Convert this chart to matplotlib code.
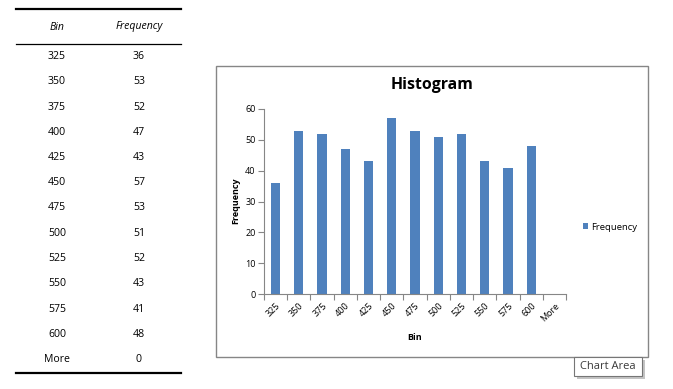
import matplotlib
matplotlib.use("Agg")
import matplotlib.pyplot as plt
from matplotlib.patches import Rectangle
from matplotlib.lines import Line2D
import numpy as np

bins = ["325", "350", "375", "400", "425", "450", "475", "500", "525", "550", "575", "600", "More"]
frequency = [36, 53, 52, 47, 43, 57, 53, 51, 52, 43, 41, 48, 0]
y_ticks = [0, 10, 20, 30, 40, 50, 60]

plt.rcParams['font.family'] = ['Open Sans', 'DejaVu Sans']
W, H = 673, 389
fig = plt.figure(figsize=(W / 100, H / 100), dpi=100)

def fx(px):
    return px / W

def fy(py):
    return 1 - py / H

# ---- table on the left ----
fig.add_artist(Line2D([fx(16), fx(181)], [fy(9), fy(9)], color='black', lw=1.6))
fig.add_artist(Line2D([fx(16), fx(181)], [fy(44), fy(44)], color='black', lw=0.9))
fig.add_artist(Line2D([fx(16), fx(181)], [fy(373), fy(373)], color='black', lw=1.6))
fig.text(fx(57), fy(27), "Bin", ha='center', va='center', fontsize=7.6, style='italic')
fig.text(fx(139), fy(27), "Frequency", ha='center', va='center', fontsize=7.6, style='italic')
row0, step = 56.5, 25.25
for i, (b, f) in enumerate(zip(bins, frequency)):
    yy = fy(row0 + i * step)
    fig.text(fx(57), yy, b, ha='center', va='center', fontsize=7.6)
    fig.text(fx(139), yy, str(f), ha='center', va='center', fontsize=7.6)

# ---- chart area box ----
fig.add_artist(Rectangle((fx(216), fy(357)), fx(648) - fx(216), fy(66) - fy(357),
                         transform=fig.transFigure, facecolor='white',
                         edgecolor='#868686', lw=1.0, zorder=0))

ax = fig.add_axes([fx(264), fy(294), fx(566) - fx(264), fy(109) - fy(294)])
x = np.arange(len(bins))
bars = ax.bar(x, frequency, width=0.4, color='#4F81BD', label='Frequency', zorder=2)
ax.set_xlim(-0.5, len(bins) - 0.5)
ax.set_ylim(0, 60)
ax.set_yticks(y_ticks)
ax.set_yticklabels([str(v) for v in y_ticks], fontsize=6.5)
ax.set_xticks(x)
ax.set_xticklabels(bins, fontsize=6.5, rotation=45, ha='right', va='top', rotation_mode='anchor')
ax.set_xticks(np.arange(len(bins) + 1) - 0.5, minor=True)
ax.tick_params(axis='x', which='major', length=0, pad=5)
ax.tick_params(axis='x', which='minor', length=4, color='#868686', width=0.8)
ax.tick_params(axis='y', length=4, color='#868686', width=0.8, pad=2)
for s in ['top', 'right']:
    ax.spines[s].set_visible(False)
for s in ['left', 'bottom']:
    ax.spines[s].set_color('#868686')
    ax.spines[s].set_linewidth(0.8)
ax.set_facecolor('none')

fig.text(fx(432), fy(85), "Histogram", ha='center', va='center', fontsize=11.4, fontweight='bold')
fig.text(fx(415), fy(338), "Bin", ha='center', va='center', fontsize=6.5, fontweight='bold')
fig.text(fx(236), fy(201), "Frequency", ha='center', va='center', fontsize=6.5,
         fontweight='bold', rotation=90)

fig.legend(handles=[bars], labels=['Frequency'], loc='center left',
           bbox_to_anchor=(fx(578), fy(227)), frameon=False, fontsize=6.8,
           handlelength=0.6, handleheight=0.6, handletextpad=0.3, borderpad=0)

# ---- tooltip ----
fig.add_artist(Rectangle((fx(577), fy(379)), fx(68), fy(357) - fy(376),
                         transform=fig.transFigure, facecolor='#c4c4c4',
                         edgecolor='none', zorder=3))
fig.add_artist(Rectangle((fx(574), fy(376)), fx(68), fy(357) - fy(376),
                         transform=fig.transFigure, facecolor='white',
                         edgecolor='#767676', lw=0.8, zorder=4))
fig.text(fx(608), fy(366.5), "Chart Area", ha='center', va='center', fontsize=8,
         color='#3a3a3a', zorder=5)

fig.savefig("out.png", dpi=100)
